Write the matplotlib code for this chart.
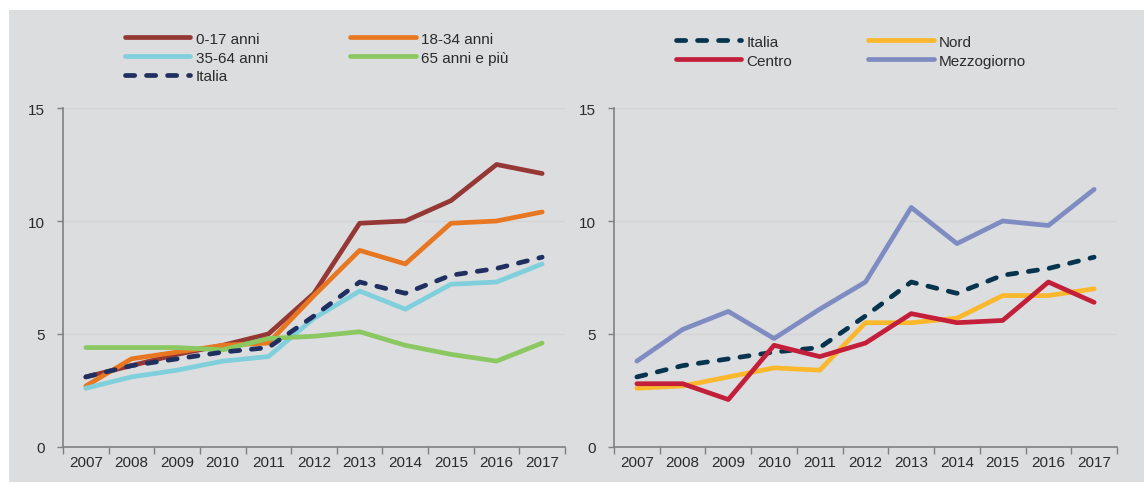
"""
Two panels: share (%) by age class and by geographic area, 2007-2017.
"""

import numpy as np
import matplotlib.pyplot as plt
from matplotlib.patches import Rectangle

plt.rcParams['font.family'] = ['Liberation Sans', 'DejaVu Sans']

years = ['2007', '2008', '2009', '2010', '2011', '2012', '2013', '2014', '2015', '2016', '2017']

# left panel: age classes
age_0_17 = [3.1, 3.6, 4.1, 4.5, 5.0, 6.8, 9.9, 10.0, 10.9, 12.5, 12.1]
age_18_34 = [2.7, 3.9, 4.2, 4.5, 4.6, 6.7, 8.7, 8.1, 9.9, 10.0, 10.4]
age_35_64 = [2.6, 3.1, 3.4, 3.8, 4.0, 5.7, 6.9, 6.1, 7.2, 7.3, 8.1]
age_65 = [4.4, 4.4, 4.4, 4.3, 4.8, 4.9, 5.1, 4.5, 4.1, 3.8, 4.6]
italia = [3.1, 3.6, 3.9, 4.2, 4.4, 5.8, 7.3, 6.8, 7.6, 7.9, 8.4]

# right panel: areas
nord = [2.6, 2.7, 3.1, 3.5, 3.4, 5.5, 5.5, 5.7, 6.7, 6.7, 7.0]
centro = [2.8, 2.8, 2.1, 4.5, 4.0, 4.6, 5.9, 5.5, 5.6, 7.3, 6.4]
mezzogiorno = [3.8, 5.2, 6.0, 4.8, 6.1, 7.3, 10.6, 9.0, 10.0, 9.8, 11.4]

BG = '#dcdddf'
TXT = '#2b2b2b'
LW = 3.4

fig = plt.figure(figsize=(11.46, 4.85), dpi=100)
fig.patch.set_facecolor('white')
fig.add_artist(Rectangle((9 / 1146, 2 / 485), 1135 / 1146, 472 / 485,
                         transform=fig.transFigure, facecolor=BG, edgecolor='none', zorder=-10))

ax1 = fig.add_axes([63 / 1146, 37 / 485, 502 / 1146, 339 / 485])
ax2 = fig.add_axes([614 / 1146, 37 / 485, 503 / 1146, 339 / 485])

x = np.arange(len(years))


def style(ax):
    ax.set_facecolor('none')
    ax.set_xlim(-0.5, len(years) - 0.5)
    ax.set_ylim(0, 15)
    ax.set_yticks([0, 5, 10, 15])
    ax.set_xticks(x)
    ax.set_xticklabels(years)
    ax.set_xticks(np.arange(-0.5, len(years)), minor=True)
    ax.tick_params(axis='x', which='major', length=0, pad=6, labelsize=11, labelcolor=TXT)
    ax.tick_params(axis='x', which='minor', length=5, width=1, color='#808080', direction='out')
    ax.tick_params(axis='y', length=4, width=1, color='#808080', pad=9, labelsize=11, labelcolor=TXT)
    for s in ['top', 'right']:
        ax.spines[s].set_visible(False)
    for s in ['left', 'bottom']:
        ax.spines[s].set_color('#808080')
        ax.spines[s].set_linewidth(1.2)
    ax.yaxis.grid(True, color='#d3d4d6', lw=1)
    ax.set_axisbelow(True)


style(ax1)
style(ax2)

dash = dict(ls=(0, (1.95, 2.5)), dash_capstyle='round')
solid = dict(solid_capstyle='round', solid_joinstyle='round')

l1, = ax1.plot(x, age_0_17, color='#953735', lw=LW, **solid)
l2, = ax1.plot(x, age_18_34, color='#e87722', lw=LW, **solid)
l3, = ax1.plot(x, age_35_64, color='#7fcfdc', lw=LW, **solid)
l4, = ax1.plot(x, age_65, color='#8cc862', lw=LW, **solid)
l5, = ax1.plot(x, italia, color='#1f3060', lw=LW, **dash)

r2, = ax2.plot(x, nord, color='#fbb82d', lw=LW, **solid)
r4, = ax2.plot(x, mezzogiorno, color='#7f8cc2', lw=LW, **solid)
r1, = ax2.plot(x, italia, color='#06344e', lw=LW, **dash)
r3, = ax2.plot(x, centro, color='#c41f3a', lw=LW, **solid)

leg_kw = dict(ncol=2, loc='upper left', frameon=False, fontsize=11, borderpad=0,
              handlelength=4.3, handletextpad=0.35, labelspacing=0.32,
              bbox_transform=fig.transFigure, labelcolor=TXT)

ax1.legend([l1, l3, l5, l2, l4],
           ['0-17 anni', '35-64 anni', 'Italia', '18-34 anni', '65 anni e più'],
           bbox_to_anchor=(117 / 1146, 1 - 25 / 485), columnspacing=5.4, **leg_kw)
ax2.legend([r1, r3, r2, r4],
           ['Italia', 'Centro', 'Nord', 'Mezzogiorno'],
           bbox_to_anchor=(668 / 1146, 1 - 28 / 485), columnspacing=4.95, **leg_kw)

fig.savefig('out.png', dpi=100)
